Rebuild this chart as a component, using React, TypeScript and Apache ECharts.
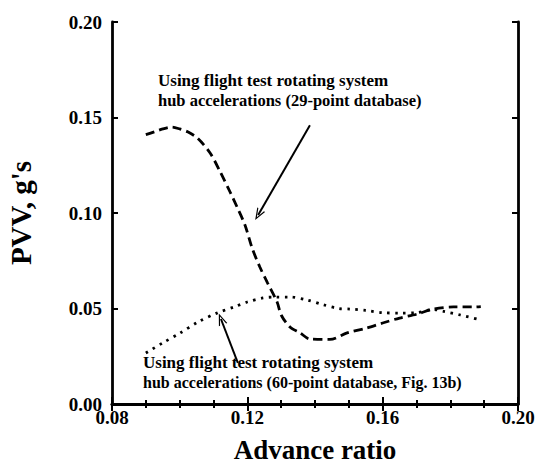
import React, { useEffect, useRef } from "react";
import * as echarts from "echarts";

const xTitle = "Advance ratio";
const yTitle = "PVV, g's";

const db29X = [0.090, 0.0925, 0.095, 0.0977, 0.100, 0.1025, 0.1054, 0.109, 0.112, 0.1149, 0.117, 0.1193, 0.1214, 0.1237, 0.126, 0.1288, 0.130, 0.1326, 0.1356, 0.1385, 0.1444, 0.1495, 0.1553, 0.160, 0.165, 0.170, 0.175, 0.1809, 0.1868, 0.189];
const db29Y = [0.141, 0.1425, 0.144, 0.145, 0.144, 0.1424, 0.139, 0.1314, 0.1215, 0.111, 0.103, 0.0937, 0.0817, 0.0717, 0.0633, 0.0534, 0.0466, 0.0403, 0.0372, 0.0340, 0.0338, 0.0372, 0.0398, 0.0424, 0.045, 0.047, 0.0497, 0.0508, 0.0508, 0.051];

const db60X = [0.090, 0.095, 0.100, 0.1055, 0.111, 0.1164, 0.120, 0.1246, 0.128, 0.1326, 0.1376, 0.1424, 0.147, 0.1503, 0.155, 0.160, 0.165, 0.170, 0.175, 0.178, 0.183, 0.189];
const db60Y = [0.0267, 0.032, 0.037, 0.043, 0.0476, 0.051, 0.0534, 0.0555, 0.056, 0.056, 0.0545, 0.052, 0.050, 0.0497, 0.049, 0.0478, 0.0476, 0.0478, 0.0495, 0.0485, 0.0466, 0.044];

const label29 = ["Using flight test rotating system", "hub accelerations (29-point database)"];
const label60 = ["Using flight test rotating system", "hub accelerations (60-point database, Fig. 13b)"];

// arrows: [tailX, tailY, tipX, tipY]
const arrow29 = [0.1385, 0.146, 0.1232, 0.099];
const arrow60 = [0.1172, 0.0215, 0.1122, 0.0445];

const FONT = "'Liberation Serif', 'Times New Roman', serif";
const chevron = "path://M0,12 L5,0 L10,12 L8.6,12 L5,3.4 L1.4,12 Z";

export default function App() {
  const ref = useRef<HTMLDivElement>(null);
  useEffect(() => {
    if (!ref.current) return;
    const chart = echarts.init(ref.current, null, { renderer: "svg" });
    const axisLine = { show: true, lineStyle: { color: "#000", width: 2.8 } };
    const baseX = {
      type: "value",
      min: 0.08,
      max: 0.2,
      interval: 0.04,
      axisLine,
      splitLine: { show: false },
      axisTick: { show: true, inside: true, length: 7, lineStyle: { width: 2, color: "#000" } },
      minorTick: { show: true, splitNumber: 4, length: 4, lineStyle: { width: 2, color: "#000" } },
    };
    const baseY = {
      type: "value",
      min: 0,
      max: 0.2,
      interval: 0.05,
      axisLine,
      splitLine: { show: false },
      axisTick: { show: true, inside: true, length: 6, lineStyle: { width: 2, color: "#000" } },
    };
    const mkArrow = (a: number[]) => ({
      silent: true,
      symbol: ["none", chevron],
      symbolSize: [9, 12],
      label: { show: false },
      lineStyle: { color: "#000", width: 2, type: "solid" },
      data: [[{ coord: [a[0], a[1]] }, { coord: [a[2], a[3]] }]],
    });
    const text = (x: number, y: number, s: string, size: number) => ({
      type: "text",
      x,
      y,
      style: { text: s, font: `bold ${size}px ${FONT}`, fill: "#000", textVerticalAlign: "middle" },
    });
    chart.setOption({
      animation: false,
      backgroundColor: "#fff",
      grid: { left: 112, right: 19, top: 22, bottom: 63, containLabel: false, outerBoundsMode: "none" },
      xAxis: [
        {
          ...baseX,
          position: "bottom",
          name: xTitle,
          nameLocation: "middle",
          nameGap: 32,
          nameTextStyle: { fontFamily: FONT, fontWeight: "bold", fontSize: 27, color: "#000" },
          axisLabel: {
            color: "#000",
            fontFamily: FONT,
            fontWeight: "bold",
            fontSize: 19,
            margin: 4,
            formatter: (v: number) => v.toFixed(2),
          },
        },
        { ...baseX, position: "top", axisLabel: { show: false } },
      ],
      yAxis: [
        {
          ...baseY,
          position: "left",
          name: yTitle,
          nameLocation: "middle",
          nameGap: 77,
          nameTextStyle: { fontFamily: FONT, fontWeight: "bold", fontSize: 29, color: "#000" },
          axisLabel: {
            color: "#000",
            fontFamily: FONT,
            fontWeight: "bold",
            fontSize: 19,
            margin: 10,
            formatter: (v: number) => v.toFixed(2),
          },
        },
        { ...baseY, position: "right", axisLabel: { show: false } },
      ],
      series: [
        {
          type: "line",
          data: db29X.map((x, i) => [x, db29Y[i]]),
          smooth: 0.3,
          showSymbol: false,
          lineStyle: { color: "#000", width: 2.8, type: [9, 5] },
          markLine: mkArrow(arrow29),
        },
        {
          type: "line",
          data: db60X.map((x, i) => [x, db60Y[i]]),
          smooth: 0.3,
          showSymbol: false,
          lineStyle: { color: "#000", width: 2.8, type: [2.5, 5.5] },
          markLine: mkArrow(arrow60),
        },
      ],
      graphic: [
        text(158, 80, label29[0], 17),
        text(158, 100, label29[1], 16.5),
        text(143, 362, label60[0], 17),
        text(143, 382, label60[1], 16),
      ],
    });
    return () => chart.dispose();
  }, []);
  return <div ref={ref} style={{ position: "fixed", left: 0, top: 0, width: 537, height: 467 }} />;
}
